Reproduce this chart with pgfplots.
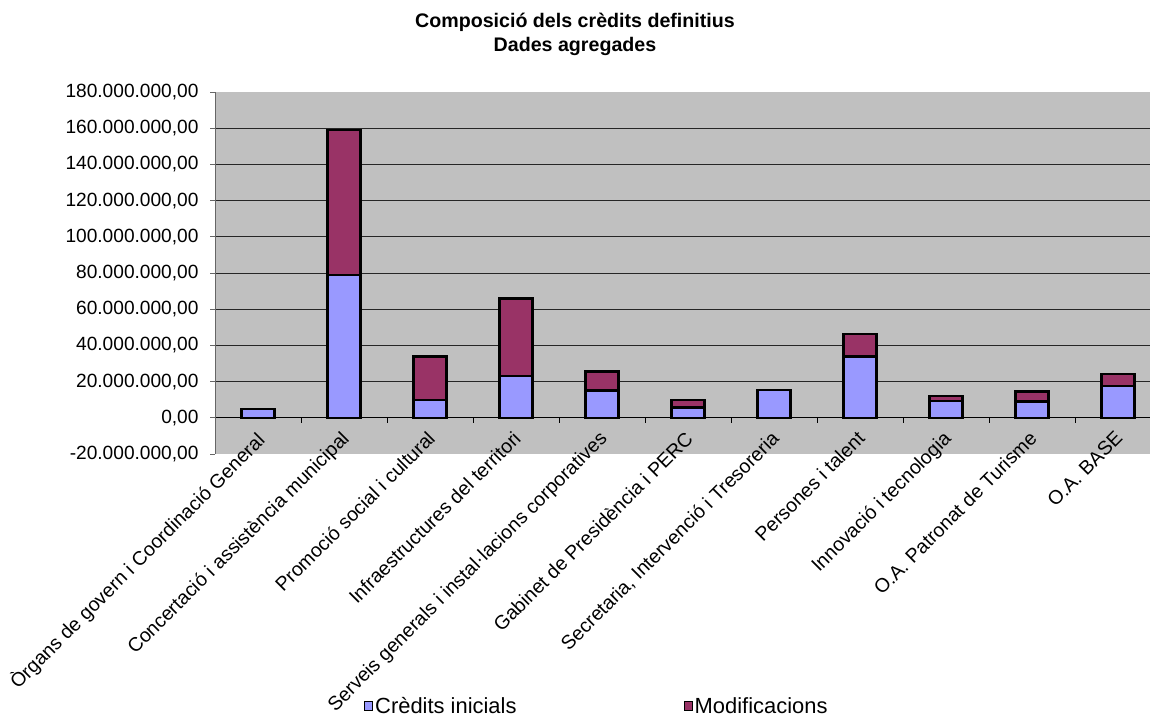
\documentclass[border=0pt]{standalone}
\usepackage{pgfplots}
\pgfplotsset{compat=1.18}
\usepackage{fontspec}
\setmainfont{Liberation Sans}
\definecolor{bgc}{HTML}{C0C0C0}
\definecolor{ci}{HTML}{9999FF}
\definecolor{mo}{HTML}{993366}
\begin{document}
\begin{tikzpicture}[x=1bp,y=1bp]
\useasboundingbox (0,0) rectangle (1150,718);
\node[align=center,font=\fontsize{19.7}{24}\selectfont\bfseries] at (575,684) {Composició dels crèdits definitius\\Dades agregades};
\begin{axis}[
  at={(215bp,264bp)}, anchor=south west,
  scale only axis, width=935bp, height=362bp,
  xmin=-0.5, xmax=10.372,
  ymin=-20000000, ymax=180000000,
  ybar stacked, bar width=33bp,
  axis background/.style={fill=bgc},
  axis y line*=left, axis x line*=middle,
  y axis line style={draw=gray!80!black, line width=0.8bp},
  x axis line style={draw=black, line width=1.3bp},
  hide obscured x ticks=false, hide obscured y ticks=false,
  scaled y ticks=false,
  /pgf/number format/.cd, fixed, fixed zerofill, precision=2, use comma, 1000 sep={.}, assume math mode=true,
  /pgfplots/.cd,
  ytick={0,20000000,40000000,60000000,80000000,100000000,120000000,140000000,160000000},
  extra y ticks={-20000000,180000000},
  extra y tick style={grid=none},
  ymajorgrids, grid style={black!85, line width=0.8bp},
  ytick style={draw=gray!80!black, line width=0.8bp},
  tick align=outside, major tick length=5bp,
  yticklabel style={font=\fontsize{19.2}{22}\selectfont, xshift=-8bp},
  xtick={0,1,2,3,4,5,6,7,8,9,10},
  xtick style={draw=none},
  xticklabels={Òrgans de govern i Coordinació General, Concertació i assistència municipal, Promoció social i cultural, Infraestructures del territori, Serveis generals i instal·lacions corporatives, Gabinet de Presidència i PERC, {Secretaria, Intervenció i Tresoreria}, Persones i talent, Innovació i tecnologia, O.A. Patronat de Turisme, O.A. BASE},
  xticklabel style={font=\fontsize{19.6}{22}\selectfont, xshift=-4bp, yshift=-4bp, rotate=45, anchor=north east, inner sep=2bp},
  extra x ticks={0.5,1.5,2.5,3.5,4.5,5.5,6.5,7.5,8.5,9.5},
  extra x tick labels={},
  extra x tick style={xtick style={draw=black, line width=0.8bp}},
  legend columns=2,
  legend style={at={(0.156,-0.696)}, anchor=west, draw=none, fill=none,
    font=\fontsize{22}{26}\selectfont,
    /tikz/every even column/.append style={column sep=165bp}},
]
\addplot[fill=ci, draw=black, line width=2.5bp,
  legend image code/.code={\draw[fill=ci,draw=black,line width=1.2bp] (0bp,-4.5bp) rectangle (8bp,4.5bp);}]
  coordinates {(0,4800000) (1,78900000) (2,9900000) (3,23200000) (4,15100000) (5,5700000) (6,15300000) (7,33800000) (8,9200000) (9,9000000) (10,17700000)};
\addplot[fill=mo, draw=black, line width=2.5bp,
  legend image code/.code={\draw[fill=mo,draw=black,line width=1.2bp] (0bp,-4.5bp) rectangle (8bp,4.5bp);}]
  coordinates {(0,0) (1,80100000) (2,23900000) (3,42600000) (4,10500000) (5,4100000) (6,0) (7,12600000) (8,2800000) (9,5500000) (10,6400000)};
\legend{Crèdits inicials, Modificacions}
\end{axis}
\end{tikzpicture}
\end{document}
